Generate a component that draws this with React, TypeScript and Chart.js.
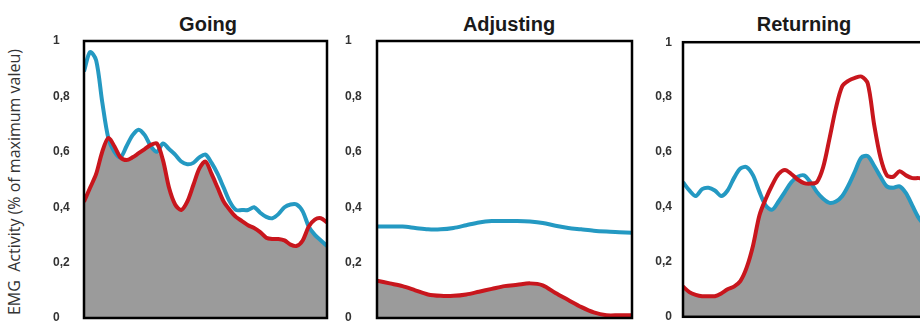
import React, { useEffect, useRef } from "react";
import { Chart, registerables } from "chart.js";

Chart.register(...registerables);

// ---- data (values as fraction of maximum) ----
const panelTitles = ["Going", "Adjusting", "Returning"];
const yAxisTitle = "EMG  Activity (% of maximum valeu)";
const yTickValues = [0, 0.2, 0.4, 0.6, 0.8, 1];

// Going: 41 samples across the window (every 2.5 %)
const goingBlue = [
  0.89, 0.96, 0.93, 0.78, 0.65, 0.6, 0.58, 0.62, 0.66, 0.68,
  0.66, 0.62, 0.6, 0.63, 0.61, 0.59, 0.565, 0.555, 0.56, 0.58,
  0.59, 0.56, 0.52, 0.47, 0.42, 0.39, 0.39, 0.39, 0.4, 0.38,
  0.365, 0.36, 0.375, 0.4, 0.41, 0.41, 0.385, 0.33, 0.3, 0.28,
  0.26,
];
const goingRed = [
  0.42, 0.47, 0.52, 0.6, 0.65, 0.62, 0.58, 0.57, 0.58, 0.595,
  0.61, 0.625, 0.63, 0.57, 0.47, 0.41, 0.39, 0.42, 0.48, 0.54,
  0.565, 0.52, 0.47, 0.42, 0.39, 0.365, 0.35, 0.335, 0.325, 0.31,
  0.29, 0.285, 0.285, 0.28, 0.265, 0.26, 0.28, 0.33, 0.355, 0.36,
  0.345,
];

// Adjusting: 21 samples (every 5 %)
const adjustingBlue = [
  0.33, 0.33, 0.33, 0.325, 0.32, 0.32, 0.325, 0.335, 0.345, 0.35,
  0.35, 0.35, 0.348, 0.343, 0.333, 0.325, 0.32, 0.315, 0.312, 0.31,
  0.308,
];
const adjustingRed = [
  0.135, 0.125, 0.115, 0.1, 0.085, 0.08, 0.08, 0.085, 0.095, 0.105,
  0.115, 0.12, 0.125, 0.118, 0.09, 0.065, 0.04, 0.02, 0.01, 0.01,
  0.01,
];

// Returning: samples every 2.5 % (the right part is cut off in the figure)
const returningBlue = [
  0.49, 0.46, 0.44, 0.465, 0.47, 0.46, 0.44, 0.46, 0.505, 0.54,
  0.545, 0.515, 0.455, 0.405, 0.39, 0.42, 0.455, 0.49, 0.51, 0.515,
  0.49, 0.455, 0.43, 0.415, 0.42, 0.44, 0.48, 0.53, 0.58, 0.585,
  0.55, 0.51, 0.475, 0.47, 0.475, 0.45, 0.405, 0.36, 0.33,
];
const returningRed = [
  0.11, 0.09, 0.08, 0.075, 0.075, 0.075, 0.085, 0.1, 0.11, 0.13,
  0.18, 0.26, 0.37, 0.43, 0.48, 0.52, 0.535, 0.52, 0.5, 0.487,
  0.485, 0.49, 0.545, 0.65, 0.76, 0.84, 0.86, 0.87, 0.875, 0.85,
  0.7, 0.58, 0.515, 0.51, 0.53, 0.515, 0.505, 0.505, 0.5,
];

const BLUE = "#2499c2";
const RED = "#c8161d";
const GRAY = "#9b9b9b";

type PanelCfg = {
  title: string;
  blue: number[];
  red: number[];
  step: number;
  xMax: number;
  left: number;
  width: number;
  top: number;
  height: number;
  padTop: number;
  padBottom: number;
  padRight: number;
  openRight: boolean;
  axisWidth: number;
  crossAlign: "near" | "far";
  tickPad: number;
  titleCenter: number;
};

// plot area: top 41, bottom 318 for every panel
const panels: PanelCfg[] = [
  { title: panelTitles[0], blue: goingBlue, red: goingRed, step: 2.5, xMax: 100, left: 53, width: 276, top: 30, height: 296, padTop: 11, padBottom: 8, padRight: 2, openRight: false, axisWidth: 31, crossAlign: "far", tickPad: 0, titleCenter: 208 },
  { title: panelTitles[1], blue: adjustingBlue, red: adjustingRed, step: 5, xMax: 100, left: 345, width: 289, top: 30, height: 296, padTop: 11, padBottom: 8, padRight: 2, openRight: false, axisWidth: 32, crossAlign: "far", tickPad: 0, titleCenter: 509 },
  { title: panelTitles[2], blue: returningBlue, red: returningRed, step: 2.5, xMax: 93, left: 643, width: 277, top: 24, height: 311, padTop: 17, padBottom: 17, padRight: 0, openRight: true, axisWidth: 40, crossAlign: "near", tickPad: 11, titleCenter: 804 },
];

const makeFramePlugin = (openRight: boolean) => ({
  id: "frame",
  afterDatasetsDraw(chart: any) {
    const { ctx, chartArea } = chart;
    const { left, top, right, bottom } = chartArea;
    const r = openRight ? right + 10 : right;
    ctx.save();
    ctx.strokeStyle = "#000";
    ctx.lineWidth = 2.5;
    ctx.strokeRect(left, top, r - left, bottom - top);
    ctx.restore();
  },
});

const fmt = (v: number) => {
  if (Math.abs(v) < 1e-9) return "0";
  if (Math.abs(v - 1) < 1e-9) return "1";
  return v.toFixed(1).replace(".", ",");
};

function Panel({ cfg }: { cfg: PanelCfg }) {
  const ref = useRef<HTMLCanvasElement | null>(null);
  useEffect(() => {
    if (!ref.current) return;
    const pts = (arr: number[]) => arr.map((v, i) => ({ x: i * cfg.step, y: v }));
    const lower = cfg.blue.map((b, i) => Math.min(b, cfg.red[i]));
    const chart = new Chart(ref.current, {
      type: "line",
      data: {
        datasets: [
          { data: pts(cfg.red), borderColor: RED, borderWidth: 4, pointRadius: 0, tension: 0.3, fill: false, order: 0 },
          { data: pts(cfg.blue), borderColor: BLUE, borderWidth: 4, pointRadius: 0, tension: 0.3, fill: false, order: 1 },
          { data: pts(lower), borderColor: GRAY, backgroundColor: GRAY, borderWidth: 1, pointRadius: 0, tension: 0.3, fill: "origin", order: 2 },
        ],
      },
      options: {
        responsive: false,
        animation: false,
        layout: { padding: { top: cfg.padTop, bottom: cfg.padBottom, left: 0, right: cfg.padRight } },
        plugins: { legend: { display: false }, tooltip: { enabled: false }, title: { display: false } },
        scales: {
          x: { type: "linear", display: false, min: 0, max: cfg.xMax },
          y: {
            min: 0,
            max: 1,
            afterFit: (s: any) => { s.width = cfg.axisWidth; },
            grid: { display: false, drawTicks: false },
            border: { display: false },
            afterBuildTicks: (s: any) => { s.ticks = yTickValues.map((v) => ({ value: v })); },
            ticks: {
              crossAlign: cfg.crossAlign,
              padding: cfg.tickPad,
              color: "#333",
              font: { family: "Arial, 'Liberation Sans', sans-serif", size: 12, weight: "bold" },
              callback: (v: any) => fmt(Number(v)),
            },
          },
        },
      } as any,
      plugins: [makeFramePlugin(cfg.openRight)],
    });
    return () => chart.destroy();
  }, [cfg]);
  return (
    <canvas
      ref={ref}
      width={cfg.width}
      height={cfg.height}
      style={{ position: "absolute", left: cfg.left, top: cfg.top, width: cfg.width, height: cfg.height }}
    />
  );
}

export default function App() {
  return (
    <div style={{ position: "absolute", left: 0, top: 0, width: 920, height: 322, overflow: "hidden", background: "#fff" }}>
      {panels.map((p) => (
        <div
          key={p.title + "-t"}
          style={{
            position: "absolute",
            left: p.titleCenter - 100,
            top: 14,
            width: 200,
            textAlign: "center",
            fontFamily: "Arial, 'Liberation Sans', sans-serif",
            fontWeight: "bold",
            fontSize: 20,
            lineHeight: "20px",
            color: "#1a1a1a",
          }}
        >
          {p.title}
        </div>
      ))}
      <div
        style={{
          position: "absolute",
          left: 14 - 160,
          top: 182 - 11,
          width: 320,
          height: 22,
          lineHeight: "22px",
          textAlign: "center",
          transform: "rotate(-90deg)",
          fontFamily: "'Open Sans', 'Noto Sans', sans-serif",
          fontSize: 16,
          color: "#333",
          whiteSpace: "pre",
        }}
      >
        {yAxisTitle}
      </div>
      {panels.map((p) => (
        <Panel key={p.title} cfg={p} />
      ))}
    </div>
  );
}
